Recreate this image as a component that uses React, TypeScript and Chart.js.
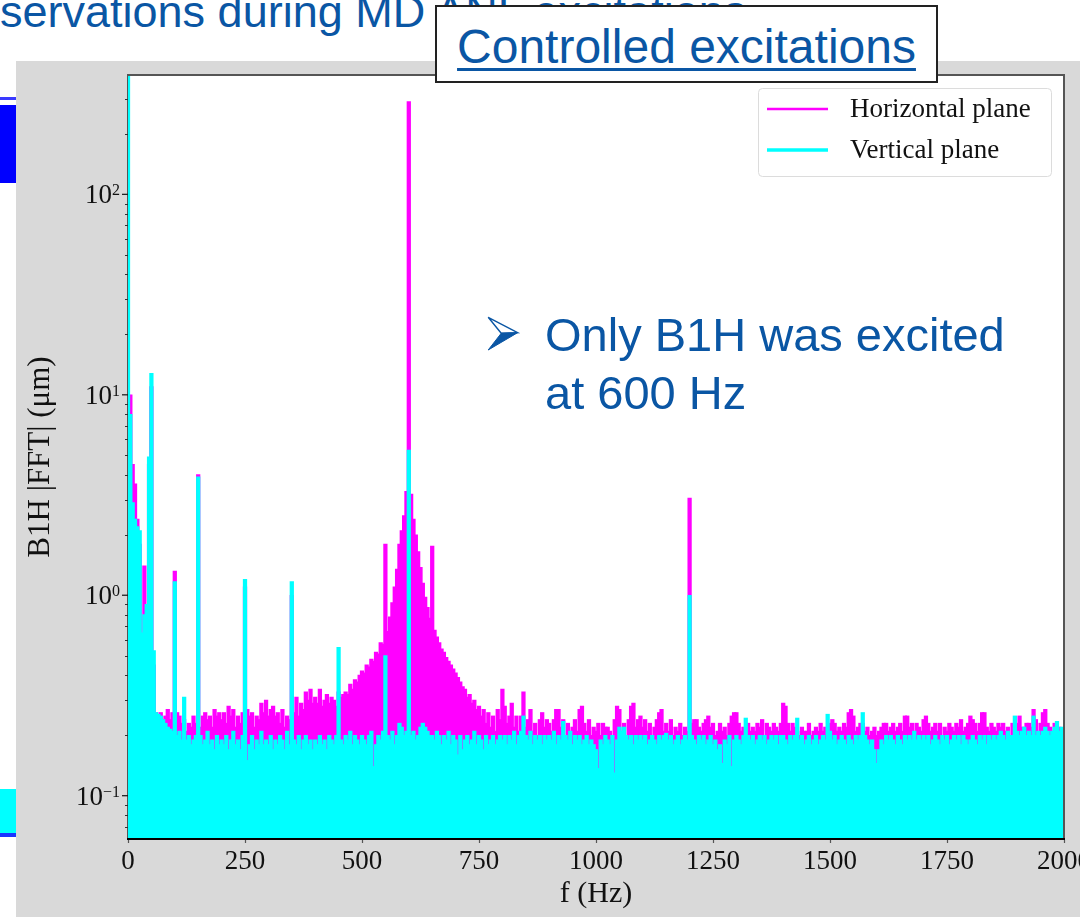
import React, { useEffect, useRef } from 'react';
import { Chart, registerables } from 'chart.js';

Chart.register(...registerables);

// FFT bin spacing of both spectra (Hz)
const BIN_STEP_HZ = 5;

// |FFT| of B1H, horizontal plane (µm), one row per 100 Hz
const H_PLANE: number[] = [
  10, 10, 4.5, 3.6, 2.4, 1.8, 0.6, 1.4, 0.9, 4.5, 11, 0.45, 0.26, 0.25, 0.26, 0.24, 0.25, 0.27, 0.24, 0.26,
  1.32, 0.26, 0.25, 0.23, 0.24, 0.21, 0.23, 0.22, 0.25, 0.23, 4.0, 0.22, 0.25, 0.26, 0.24, 0.25, 0.22, 0.27, 0.25, 0.26,
  0.24, 0.26, 0.23, 0.28, 0.25, 0.27, 0.22, 0.25, 0.23, 0.26, 1.1, 0.27, 0.25, 0.26, 0.22, 0.25, 0.24, 0.29, 0.26, 0.3,
  0.25, 0.27, 0.28, 0.25, 0.26, 0.23, 0.27, 0.22, 0.25, 0.24, 1.0, 0.26, 0.31, 0.25, 0.29, 0.27, 0.33, 0.3, 0.34, 0.29,
  0.31, 0.29, 0.34, 0.28, 0.3, 0.32, 0.29, 0.31, 0.3, 0.28, 0.33, 0.31, 0.32, 0.33, 0.32, 0.36, 0.34, 0.38, 0.37, 0.4,
  0.42, 0.41, 0.45, 0.44, 0.48, 0.47, 0.52, 0.51, 0.58, 0.57, 1.8, 0.66, 0.78, 0.92, 1.1, 1.35, 1.8, 2.1, 2.5, 3.3,
  290, 3.2, 2.4, 2.0, 1.65, 1.38, 1.15, 0.98, 0.87, 0.77, 1.76, 0.67, 0.62, 0.58, 0.54, 0.52, 0.49, 0.47, 0.45, 0.43,
  0.41, 0.39, 0.37, 0.35, 0.34, 0.31, 0.32, 0.29, 0.3, 0.27, 0.28, 0.25, 0.27, 0.23, 0.26, 0.22, 0.25, 0.21, 0.27, 0.24,
  0.34, 0.28, 0.23, 0.25, 0.29, 0.22, 0.25, 0.21, 0.25, 0.33, 0.22, 0.24, 0.27, 0.21, 0.23, 0.2, 0.24, 0.26, 0.22, 0.24,
  0.23, 0.21, 0.24, 0.27, 0.27, 0.22, 0.24, 0.2, 0.23, 0.21, 0.22, 0.24, 0.21, 0.27, 0.28, 0.23, 0.21, 0.24, 0.2, 0.22,
  0.21, 0.23, 0.2, 0.23, 0.22, 0.22, 0.21, 0.2, 0.24, 0.28, 0.27, 0.21, 0.23, 0.2, 0.24, 0.28, 0.29, 0.22, 0.24, 0.25,
  0.22, 0.24, 0.21, 0.23, 0.2, 0.22, 0.24, 0.26, 0.27, 0.21, 0.23, 0.21, 0.24, 0.2, 0.22, 0.21, 0.23, 0.2, 0.22, 0.21,
  3.05, 0.23, 0.24, 0.24, 0.22, 0.21, 0.23, 0.24, 0.25, 0.22, 0.23, 0.2, 0.21, 0.23, 0.21, 0.22, 0.2, 0.23, 0.25, 0.26,
  0.26, 0.23, 0.21, 0.22, 0.2, 0.23, 0.21, 0.22, 0.21, 0.23, 0.22, 0.24, 0.2, 0.23, 0.22, 0.21, 0.23, 0.22, 0.21, 0.23,
  0.29, 0.28, 0.23, 0.21, 0.23, 0.22, 0.21, 0.2, 0.22, 0.21, 0.21, 0.23, 0.2, 0.21, 0.22, 0.21, 0.23, 0.21, 0.22, 0.21,
  0.23, 0.24, 0.23, 0.21, 0.22, 0.21, 0.23, 0.22, 0.26, 0.27, 0.25, 0.21, 0.22, 0.23, 0.23, 0.21, 0.22, 0.2, 0.21, 0.22,
  0.2, 0.21, 0.22, 0.23, 0.23, 0.21, 0.22, 0.23, 0.21, 0.22, 0.23, 0.21, 0.25, 0.25, 0.22, 0.23, 0.21, 0.23, 0.22, 0.21,
  0.24, 0.25, 0.23, 0.21, 0.22, 0.23, 0.21, 0.23, 0.2, 0.22, 0.21, 0.23, 0.22, 0.21, 0.23, 0.22, 0.24, 0.21, 0.22, 0.23,
  0.25, 0.24, 0.23, 0.21, 0.23, 0.26, 0.26, 0.22, 0.21, 0.23, 0.22, 0.21, 0.23, 0.22, 0.23, 0.21, 0.22, 0.2, 0.23, 0.22,
  0.23, 0.25, 0.22, 0.21, 0.23, 0.23, 0.22, 0.27, 0.24, 0.21, 0.23, 0.26, 0.27, 0.23, 0.22, 0.21, 0.23, 0.21, 0.22, 0.21,
  0.2,
];

// |FFT| of B1H, vertical plane (µm), one row per 100 Hz
const V_PLANE: number[] = [
  400, 8.0, 2.9, 2.4, 2.2, 2.1, 0.65, 0.8, 0.9, 4.9, 12.8, 0.53, 0.26, 0.255, 0.25, 0.24, 0.23, 0.22, 0.215, 0.21,
  1.17, 0.2, 0.21, 0.19, 0.31, 0.19, 0.2, 0.18, 0.19, 0.2, 3.9, 0.2, 0.18, 0.19, 0.21, 0.18, 0.19, 0.17, 0.2, 0.18,
  0.19, 0.18, 0.2, 0.17, 0.19, 0.21, 0.18, 0.19, 0.17, 0.2, 1.2, 0.15, 0.18, 0.2, 0.17, 0.19, 0.18, 0.21, 0.18, 0.19,
  0.18, 0.2, 0.17, 0.19, 0.18, 0.2, 0.19, 0.17, 0.21, 0.18, 1.17, 0.19, 0.18, 0.2, 0.17, 0.19, 0.2, 0.18, 0.19, 0.17,
  0.19, 0.18, 0.2, 0.18, 0.19, 0.17, 0.2, 0.19, 0.18, 0.2, 0.55, 0.19, 0.18, 0.2, 0.19, 0.21, 0.18, 0.2, 0.19, 0.18,
  0.2, 0.19, 0.18, 0.2, 0.21, 0.14, 0.18, 0.2, 0.19, 0.21, 0.5, 0.2, 0.19, 0.21, 0.18, 0.2, 0.23, 0.22, 0.2, 0.21,
  5.3, 0.2, 0.21, 0.19, 0.2, 0.22, 0.23, 0.22, 0.21, 0.2, 0.2, 0.19, 0.21, 0.2, 0.18, 0.2, 0.19, 0.21, 0.18, 0.2,
  0.19, 0.16, 0.2, 0.17, 0.19, 0.2, 0.18, 0.19, 0.21, 0.18, 0.2, 0.19, 0.17, 0.2, 0.18, 0.19, 0.2, 0.18, 0.19, 0.2,
  0.19, 0.2, 0.18, 0.2, 0.19, 0.21, 0.18, 0.2, 0.21, 0.25, 0.2, 0.19, 0.21, 0.18, 0.2, 0.19, 0.2, 0.18, 0.2, 0.19,
  0.2, 0.19, 0.21, 0.18, 0.2, 0.19, 0.235, 0.2, 0.19, 0.21, 0.18, 0.2, 0.19, 0.2, 0.18, 0.19, 0.2, 0.18, 0.19, 0.18,
  0.17, 0.137, 0.19, 0.18, 0.2, 0.19, 0.18, 0.2, 0.13, 0.19, 0.22, 0.21, 0.22, 0.2, 0.19, 0.2, 0.18, 0.2, 0.19, 0.2,
  0.19, 0.2, 0.18, 0.19, 0.2, 0.19, 0.18, 0.2, 0.19, 0.2, 0.205, 0.19, 0.2, 0.18, 0.19, 0.2, 0.18, 0.19, 0.2, 0.19,
  1.0, 0.2, 0.19, 0.18, 0.2, 0.19, 0.2, 0.18, 0.19, 0.2, 0.18, 0.19, 0.17, 0.18, 0.145, 0.19, 0.18, 0.2, 0.14, 0.19,
  0.2, 0.19, 0.18, 0.2, 0.244, 0.2, 0.19, 0.2, 0.18, 0.19, 0.2, 0.19, 0.2, 0.18, 0.19, 0.2, 0.19, 0.2, 0.18, 0.2,
  0.2, 0.19, 0.18, 0.2, 0.19, 0.2, 0.244, 0.19, 0.2, 0.18, 0.19, 0.2, 0.18, 0.19, 0.2, 0.18, 0.19, 0.2, 0.19, 0.255,
  0.21, 0.19, 0.2, 0.18, 0.19, 0.2, 0.19, 0.18, 0.2, 0.19, 0.18, 0.2, 0.19, 0.2, 0.26, 0.2, 0.19, 0.18, 0.19, 0.17,
  0.145, 0.17, 0.19, 0.18, 0.2, 0.19, 0.2, 0.19, 0.18, 0.2, 0.19, 0.18, 0.2, 0.19, 0.2, 0.19, 0.21, 0.19, 0.2, 0.19,
  0.2, 0.19, 0.2, 0.18, 0.19, 0.2, 0.19, 0.18, 0.2, 0.19, 0.2, 0.18, 0.19, 0.2, 0.19, 0.2, 0.18, 0.2, 0.19, 0.18,
  0.19, 0.2, 0.19, 0.18, 0.2, 0.19, 0.2, 0.18, 0.2, 0.19, 0.2, 0.19, 0.2, 0.21, 0.2, 0.19, 0.21, 0.2, 0.2, 0.25,
  0.21, 0.2, 0.21, 0.22, 0.2, 0.21, 0.2, 0.25, 0.2, 0.21, 0.2, 0.21, 0.22, 0.21, 0.2, 0.21, 0.22, 0.235, 0.21, 0.22,
  0.2,
];

const FREQS: number[] = H_PLANE.map((_, i) => i * BIN_STEP_HZ);

const SERIES_LABELS = ['Horizontal plane', 'Vertical plane'];
const SERIES_COLORS = ['#ff00ff', '#00ffff'];

const X_MIN = 0;
const X_MAX = 2000;
const X_STEP = 250;
const Y_MIN = 0.0608;
const Y_MAX = 394;
const Y_LABEL_DECADES = [-1, 0, 1, 2];
const Y_MINOR_DECADES = [-2, -1, 0, 1, 2];
const Y_MINOR_MULTIPLES = [2, 3, 4, 5, 6, 7, 8, 9];

const SERIF = '"Liberation Serif", "DejaVu Serif", "Times New Roman", serif';
const SANS = '"Liberation Sans", Arial, Helvetica, sans-serif';
const SLIDE_BLUE = '#0a56a4';

// plot background, frame, log-axis ticks with superscript labels, legend
const framePlugin = {
  id: 'spectrumFrame',
  beforeDraw(chart: any) {
    const { ctx, chartArea: a } = chart;
    ctx.save();
    ctx.fillStyle = '#ffffff';
    ctx.fillRect(a.left, a.top, a.right - a.left, a.bottom - a.top);
    ctx.restore();
  },
  afterDatasetsDraw(chart: any) {
    const { ctx, chartArea: a } = chart;
    const yScale = chart.scales.y;
    ctx.save();

    // top and right spines
    ctx.strokeStyle = '#555';
    ctx.lineWidth = 2;
    ctx.beginPath();
    ctx.moveTo(a.left, a.top);
    ctx.lineTo(a.right, a.top);
    ctx.lineTo(a.right, a.bottom);
    ctx.stroke();

    // minor ticks
    ctx.strokeStyle = '#333';
    ctx.lineWidth = 1;
    for (const e of Y_MINOR_DECADES) {
      for (const m of Y_MINOR_MULTIPLES) {
        const v = m * Math.pow(10, e);
        if (v < Y_MIN || v > Y_MAX) continue;
        const y = Math.round(yScale.getPixelForValue(v)) + 0.5;
        ctx.beginPath();
        ctx.moveTo(a.left - 3, y);
        ctx.lineTo(a.left, y);
        ctx.stroke();
      }
    }

    // major ticks and 10^n labels
    for (const e of Y_LABEL_DECADES) {
      const v = Math.pow(10, e);
      const y = yScale.getPixelForValue(v);
      ctx.strokeStyle = '#222';
      ctx.lineWidth = 1.3;
      ctx.beginPath();
      ctx.moveTo(a.left - 6, y);
      ctx.lineTo(a.left, y);
      ctx.stroke();

      const expText = e < 0 ? '\u2212' + Math.abs(e) : String(e);
      ctx.fillStyle = '#111';
      ctx.textBaseline = 'alphabetic';
      ctx.textAlign = 'left';
      ctx.font = `16px ${SERIF}`;
      const ew = ctx.measureText(expText).width;
      ctx.font = `27px ${SERIF}`;
      const bw = ctx.measureText('10').width;
      const right = a.left - 8;
      ctx.fillText('10', right - ew - bw, y + 9);
      ctx.font = `16px ${SERIF}`;
      ctx.fillText(expText, right - ew, y + 1);
    }

    // legend
    const bw = 293;
    const bh = 88;
    const bx = a.right - 13 - bw;
    const by = a.top + 13;
    ctx.fillStyle = 'rgba(255,255,255,0.9)';
    ctx.strokeStyle = '#dcdcdc';
    ctx.lineWidth = 1;
    ctx.beginPath();
    ctx.roundRect(bx + 0.5, by + 0.5, bw, bh, 4);
    ctx.fill();
    ctx.stroke();
    const rows = [by + 21, by + 62];
    chart.data.datasets.forEach((ds: any, i: number) => {
      const ry = rows[i];
      ctx.strokeStyle = ds.backgroundColor;
      ctx.lineWidth = i === 0 ? 2.5 : 3.5;
      ctx.beginPath();
      ctx.moveTo(bx + 9, ry);
      ctx.lineTo(bx + 70, ry);
      ctx.stroke();
      ctx.fillStyle = '#111';
      ctx.font = `27px ${SERIF}`;
      ctx.textBaseline = 'middle';
      ctx.textAlign = 'left';
      ctx.fillText(ds.label, bx + 92, ry + 1);
    });

    ctx.restore();
  },
};

function SpectrumChart() {
  const canvasRef = useRef<HTMLCanvasElement | null>(null);

  useEffect(() => {
    const canvas = canvasRef.current;
    if (!canvas) return;
    const series = [H_PLANE, V_PLANE];
    const chart = new Chart(canvas, {
      type: 'bar',
      data: {
        datasets: series.map((vals, i) => ({
          label: SERIES_LABELS[i],
          data: FREQS.map((f, k) => ({ x: f, y: vals[k] })),
          backgroundColor: SERIES_COLORS[i],
          borderWidth: 0,
          barThickness: 3.6,
          grouped: false,
          order: i === 0 ? 1 : 0,
        })),
      },
      options: {
        responsive: false,
        animation: false,
        events: [],
        layout: { padding: { top: 14, right: 52, bottom: 0, left: 0 } },
        plugins: {
          legend: { display: false },
          tooltip: { enabled: false },
          title: { display: false },
        },
        scales: {
          x: {
            type: 'linear',
            min: X_MIN,
            max: X_MAX,
            offset: false,
            afterFit: (s: any) => {
              s.height = 78;
            },
            grid: {
              display: true,
              offset: false,
              drawOnChartArea: false,
              drawTicks: true,
              tickLength: 4,
              tickColor: '#555',
              tickWidth: 1.2,
            },
            border: { display: true, color: '#000', width: 2, z: 1 },
            ticks: {
              stepSize: X_STEP,
              autoSkip: false,
              maxRotation: 0,
              padding: 3,
              color: '#111',
              font: { family: SERIF, size: 27 },
              callback: (v: any) => String(v),
            },
            title: {
              display: true,
              text: 'f (Hz)',
              color: '#111',
              font: { family: SERIF, size: 30 },
              padding: { top: 0, bottom: 5 },
            },
          },
          y: {
            type: 'logarithmic',
            min: Y_MIN,
            max: Y_MAX,
            afterFit: (s: any) => {
              s.width = 112;
            },
            grid: { display: false },
            border: { display: true, color: '#555', width: 2 },
            ticks: { display: false },
            title: {
              display: true,
              text: 'B1H |FFT| (\u03bcm)',
              color: '#111',
              font: { family: SERIF, size: 31 },
              padding: { top: 6, bottom: 0 },
            },
          },
        },
      } as any,
      plugins: [framePlugin],
    });
    return () => chart.destroy();
  }, []);

  return <canvas ref={canvasRef} width={1100} height={856} style={{ display: 'block' }} />;
}

function Bullet() {
  return (
    <svg width={38} height={42} style={{ position: 'absolute', left: 484, top: 313 }}>
      <polygon points="4.2,4.3 33.6,19.7 17.2,20.3" fill="#ffffff" stroke={SLIDE_BLUE} strokeWidth={1.4} strokeLinejoin="miter" />
      <polygon points="17.2,20.3 33.6,19.7 4.2,37" fill={SLIDE_BLUE} stroke={SLIDE_BLUE} strokeWidth={1} />
    </svg>
  );
}

export default function App() {
  return (
    <div
      style={{
        position: 'fixed',
        left: 0,
        top: 0,
        width: 1080,
        height: 917,
        overflow: 'hidden',
        background: '#ffffff',
        fontFamily: SANS,
      }}
    >
      <div
        style={{
          position: 'absolute',
          left: -60,
          top: -11,
          fontSize: 45,
          lineHeight: '45px',
          color: SLIDE_BLUE,
          whiteSpace: 'nowrap',
        }}
      >
        Observations during MD ANL excitations
      </div>

      {/* left slide decorations */}
      <div style={{ position: 'absolute', left: 0, top: 97, width: 16, height: 3, background: '#3a3aff' }} />
      <div style={{ position: 'absolute', left: 0, top: 105, width: 16, height: 78, background: '#0000ff' }} />
      <div style={{ position: 'absolute', left: 0, top: 789, width: 16, height: 44, background: '#00ffff' }} />
      <div style={{ position: 'absolute', left: 0, top: 833, width: 16, height: 4, background: '#1a35ff' }} />

      <div
        style={{
          position: 'absolute',
          left: 16,
          top: 61,
          width: 1064,
          height: 856,
          background: '#d9d9d9',
        }}
      >
        <SpectrumChart />
      </div>

      <div
        style={{
          position: 'absolute',
          left: 435,
          top: 5,
          width: 499,
          height: 74,
          border: '2px solid #222',
          background: '#ffffff',
        }}
      >
        <div
          style={{
            position: 'absolute',
            left: 0,
            width: 499,
            top: 16,
            textAlign: 'center',
            fontSize: 48,
            lineHeight: '48px',
            color: SLIDE_BLUE,
            whiteSpace: 'nowrap',
            textDecoration: 'underline',
            textUnderlineOffset: '5px',
            textDecorationThickness: '3px',
          }}
        >
          Controlled excitations
        </div>
      </div>

      <Bullet />
      <div
        style={{
          position: 'absolute',
          left: 545,
          top: 311,
          fontSize: 47,
          lineHeight: '47px',
          color: SLIDE_BLUE,
          whiteSpace: 'nowrap',
        }}
      >
        Only B1H was excited
      </div>
      <div
        style={{
          position: 'absolute',
          left: 545,
          top: 369,
          fontSize: 47,
          lineHeight: '47px',
          color: SLIDE_BLUE,
          whiteSpace: 'nowrap',
        }}
      >
        at 600 Hz
      </div>
    </div>
  );
}
